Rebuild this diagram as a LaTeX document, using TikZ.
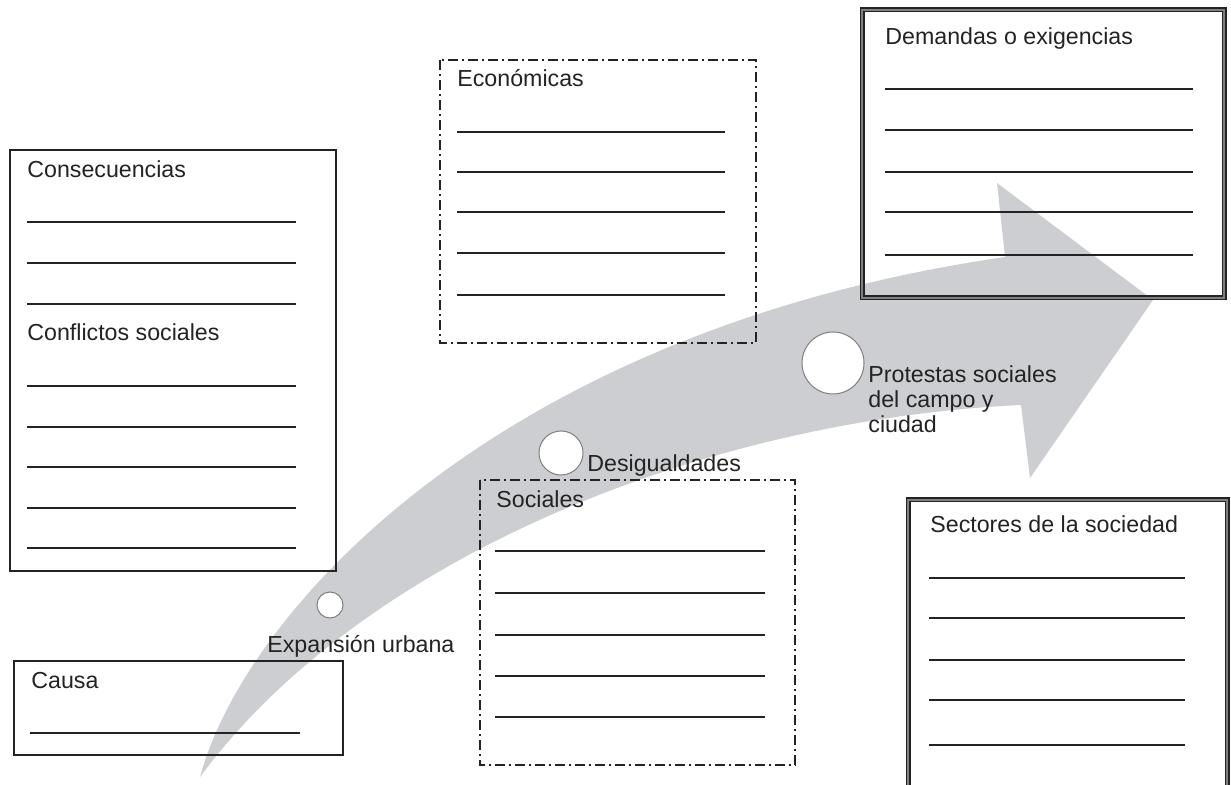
\documentclass[tikz,border=0pt]{standalone}
\usepackage{fontspec}
\setmainfont{Liberation Sans}

\definecolor{arrowgray}{RGB}{205,206,210}
\definecolor{inkgray}{RGB}{35,35,35}

\tikzset{
  plainbox/.style={draw=inkgray, line width=0.8pt},
  dashdotbox/.style={draw=inkgray, line width=0.6pt, dash pattern=on 5pt off 2pt on 1pt off 2pt},
  doublebox/.style={draw=inkgray, line width=0.7pt, double=gray, double distance=1.1pt},
  writeline/.style={draw=inkgray, line width=0.9pt},
  txt/.style={inner sep=0pt, anchor=base west, text=inkgray, font=\fontsize{11.6}{12.5}\selectfont},
  bubble/.style={circle, draw=gray, fill=white, line width=0.5pt, inner sep=0pt}
}

\begin{document}
\begin{tikzpicture}[x=0.5pt,y=-0.5pt]

\useasboundingbox (0,0) rectangle (1231,785);
\clip (0,0) rectangle (1231,785);

\coordinate (A0) at (200,777);
\coordinate (A1) at (1005,257);
\coordinate (A2) at (997,183);
\coordinate (A3) at (1153,300);
\coordinate (A4) at (1030,478);
\coordinate (A5) at (1021,405);

\fill[arrowgray] (A0) .. controls (245,610) and (500,330) .. (A1) -- (A2) -- (A3) -- (A4) -- (A5)
  .. controls (700,420) and (360,560) .. (A0) -- cycle;

\draw[plainbox] (10,150) rectangle (336,571);
\draw[dashdotbox] (440,60) rectangle (756,343);
\draw[doublebox] (862,10) rectangle (1224,298);
\draw[doublebox] (908,500) rectangle (1227,800);
\draw[dashdotbox] (480,480) rectangle (795,765);
\draw[plainbox] (14,661) rectangle (343,755);

\foreach \y in {222,263,304,386,427,467,508,548}
{
  \draw[writeline] (27,\y) -- (296,\y);
}

\foreach \y in {132,172,212,253,295}
{
  \draw[writeline] (457,\y) -- (725,\y);
}

\foreach \y in {89,130,172,212,255}
{
  \draw[writeline] (885,\y) -- (1193,\y);
}

\foreach \y in {578,618,660,700,745}
{
  \draw[writeline] (929,\y) -- (1185,\y);
}

\foreach \y in {551,593,635,676,717}
{
  \draw[writeline] (495,\y) -- (765,\y);
}

\draw[writeline] (30,733) -- (300,733);

\node[bubble, minimum size=13pt] (cExp) at (330,605) {};
\node[bubble, minimum size=22pt] (cDes) at (561,453) {};
\node[bubble, minimum size=31pt] (cProt) at (833,363) {};

\node[txt] (tCons) at (27,178) {Consecuencias};
\node[txt] (tConf) at (27,341) {Conflictos sociales};
\node[txt] (tEcon) at (457,87) {Económicas};
\node[txt] (tDem) at (885,45) {Demandas o exigencias};
\node[txt] (tSect) at (930,533) {Sectores de la sociedad};
\node[txt] (tSoc) at (496,508) {Sociales};
\node[txt] (tCausa) at (31,688) {Causa};
\node[txt] (tExp) at (267,652) {Expansión urbana};
\node[txt] (tDes) at (587,472) {Desigualdades};
\node[txt, anchor=north west, align=left] (tProt) at (868,365) {Protestas sociales\\del campo y\\ciudad};

\end{tikzpicture}
\end{document}
